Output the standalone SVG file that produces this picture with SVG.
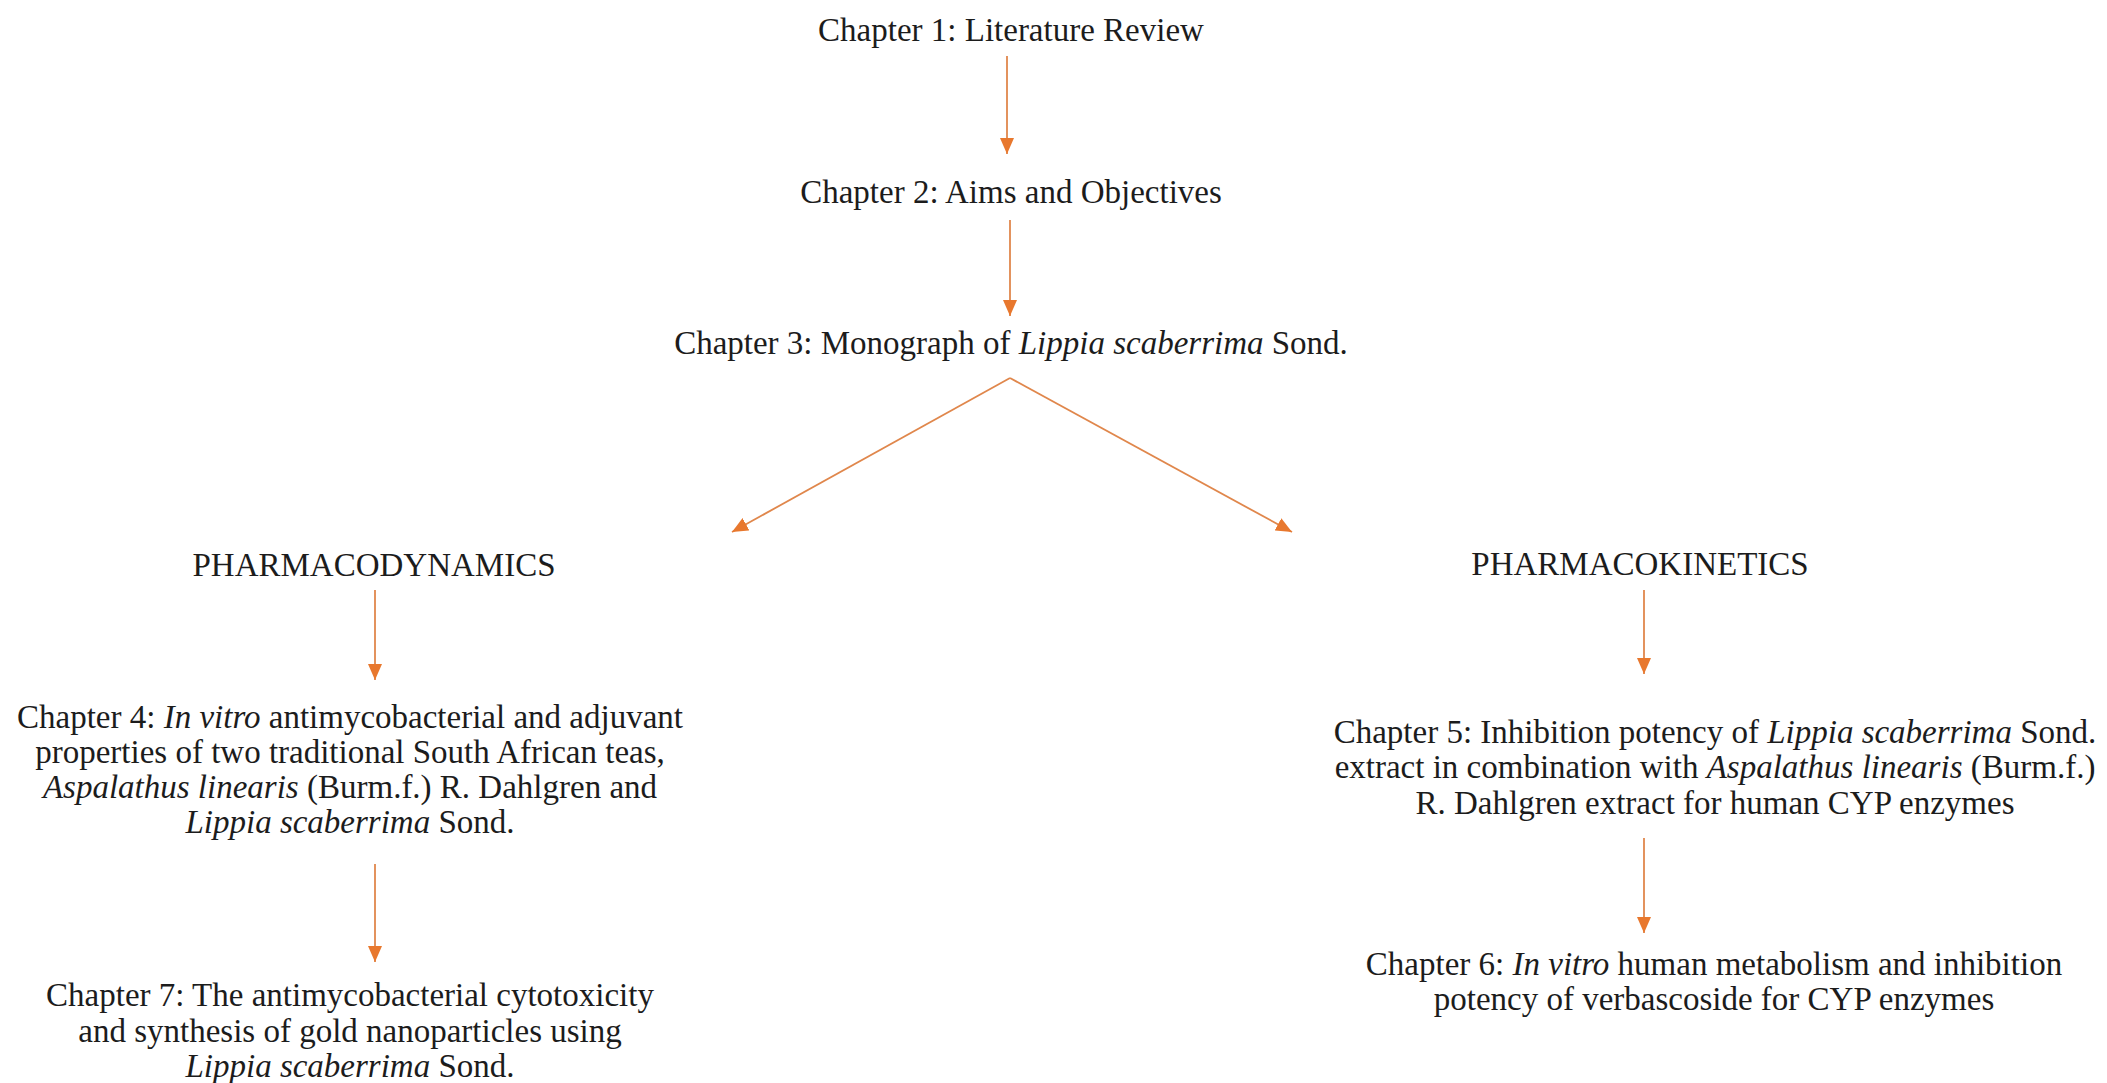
<svg xmlns="http://www.w3.org/2000/svg" width="2107" height="1083" viewBox="0 0 2107 1083">
<style>
  text { font-family: "Liberation Serif", "Times New Roman", serif; font-size: 33px; fill: #1c1c1c; text-anchor: middle; }
  .i { font-style: italic; }
  .conn { stroke: #E0874C; stroke-width: 1.8; fill: none; marker-end: url(#ah); }
</style>
<defs>
  <marker id="ah" markerUnits="userSpaceOnUse" markerWidth="16" markerHeight="14" viewBox="0 0 16 14" refX="16" refY="7" orient="auto">
    <path d="M0,0 L16,7 L0,14 z" fill="#E8782E"/>
  </marker>
</defs>
<rect width="2107" height="1083" fill="#ffffff"/>

<g id="connectors">
  <line class="conn" x1="1007" y1="56" x2="1007" y2="154"/>
  <line class="conn" x1="1010" y1="220" x2="1010" y2="316"/>
  <line class="conn" x1="1010" y1="378" x2="732" y2="532"/>
  <line class="conn" x1="1010" y1="378" x2="1292" y2="532"/>
  <line class="conn" x1="375" y1="590" x2="375" y2="680"/>
  <line class="conn" x1="1644" y1="590" x2="1644" y2="674"/>
  <line class="conn" x1="375" y1="864" x2="375" y2="962"/>
  <line class="conn" x1="1644" y1="838" x2="1644" y2="933"/>
</g>

<g id="ch1"><text x="1011" y="41">Chapter 1: Literature Review</text></g>
<g id="ch2"><text x="1011" y="203">Chapter 2: Aims and Objectives</text></g>
<g id="ch3"><text x="1011" y="354">Chapter 3: Monograph of <tspan class="i">Lippia scaberrima</tspan> Sond.</text></g>

<g id="pd"><text x="374" y="576">PHARMACODYNAMICS</text></g>
<g id="pk"><text x="1640" y="575">PHARMACOKINETICS</text></g>

<g id="ch4">
  <text x="350" y="728">Chapter 4: <tspan class="i">In vitro</tspan> antimycobacterial and adjuvant</text>
  <text x="350" y="763">properties of two traditional South African teas,</text>
  <text x="350" y="798"><tspan class="i">Aspalathus linearis</tspan> (Burm.f.) R. Dahlgren and</text>
  <text x="350" y="833"><tspan class="i">Lippia scaberrima</tspan> Sond.</text>
</g>

<g id="ch7">
  <text x="350" y="1006">Chapter 7: The antimycobacterial cytotoxicity</text>
  <text x="350" y="1042">and synthesis of gold nanoparticles using</text>
  <text x="350" y="1077"><tspan class="i">Lippia scaberrima</tspan> Sond.</text>
</g>

<g id="ch5">
  <text x="1715" y="743">Chapter 5: Inhibition potency of <tspan class="i">Lippia scaberrima</tspan> Sond.</text>
  <text x="1715" y="778">extract in combination with <tspan class="i">Aspalathus linearis</tspan> (Burm.f.)</text>
  <text x="1715" y="814">R. Dahlgren extract for human CYP enzymes</text>
</g>

<g id="ch6">
  <text x="1714" y="975">Chapter 6: <tspan class="i">In vitro</tspan> human metabolism and inhibition</text>
  <text x="1714" y="1010">potency of verbascoside for CYP enzymes</text>
</g>
</svg>
